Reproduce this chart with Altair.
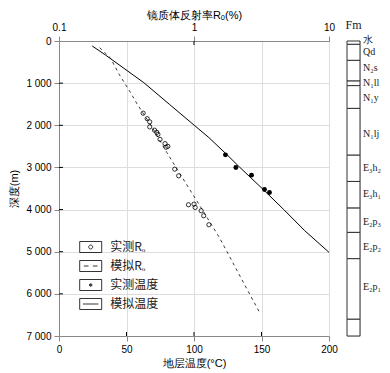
import altair as alt
import pandas as pd

# ---------------- data ----------------
# measured vitrinite reflectance Ro (%) vs depth (m)
ro_meas_depth = [1713, 1843, 1919, 2038, 2116, 2168, 2216, 2334, 2434, 2500, 2520,
                 3041, 3199, 3870, 3886, 3950, 4028, 4147, 4360]
ro_meas_val = [0.42, 0.45, 0.47, 0.47, 0.51, 0.53, 0.54, 0.56, 0.61, 0.64, 0.62,
               0.72, 0.77, 1.00, 0.91, 1.02, 1.13, 1.18, 1.29]

# modelled Ro
ro_model_depth = [160, 400, 800, 1200, 1500, 2000, 2650, 3500, 4000, 4676, 5600, 6476]
ro_model_val = [0.20, 0.24, 0.28, 0.335, 0.38, 0.48, 0.63, 0.92, 1.15, 1.55, 2.21, 3.10]

# measured temperature (°C)
t_meas_depth = [2701, 3002, 3183, 3523, 3594]
t_meas_val = [123.3, 131.0, 142.6, 152.2, 155.9]

# modelled temperature
t_model_depth = [118, 332, 988, 1500, 2000, 2291, 2700, 3000, 3500, 4000, 4500, 5015]
t_model_val = [24.6, 34.4, 62.8, 81.7, 100.2, 111.0, 124.5, 134.0, 150.5, 166.5, 182.0, 200.0]

# stratigraphic column
fm_bounds = [0, 80, 460, 950, 1060, 1600, 2710, 3333, 3965, 4542, 5166, 6603, 7000]
fm_names = ["水", "Qd", "N₂s", "N₁ll", "N₁y", "N₁lj", "E₃h₂", "E₃h₁", "E₂p₃", "E₂p₂", "E₂p₁", ""]
fm_label_depth = [-20, 250, 632, 1003, 1343, 2211, 3002, 3633, 4305, 4897, 5845, 6800]

legend_names = ["实测Rₒ", "模拟Rₒ", "实测温度", "模拟温度"]

temp_ticks = [0, 50, 100, 150, 200]
depth_ticks = [0, 1000, 2000, 3000, 4000, 5000, 6000, 7000]
ro_ticks = [0.1, 1, 10]
temp_inner_ticks = [50, 100, 150]
depth_inner_ticks = [1000, 2000, 3000, 4000, 5000, 6000]
ro_inner_ticks = [1]

# ---------------- tables ----------------
ro_meas = pd.DataFrame({"depth": ro_meas_depth, "ro": ro_meas_val})
ro_model = pd.DataFrame({"depth": ro_model_depth, "ro": ro_model_val})
t_meas = pd.DataFrame({"depth": t_meas_depth, "t": t_meas_val})
t_model = pd.DataFrame({"depth": t_model_depth, "t": t_model_val})
fm_df = pd.DataFrame({"top": fm_bounds[:-1], "bottom": fm_bounds[1:],
                      "name": fm_names, "ly": fm_label_depth})
leg_df = pd.DataFrame({"series": legend_names})

W, H = 270, 295
SERIF = "Liberation Serif"
CJK = "Noto Sans CJK SC"
INK = "#1a1a1a"

y_scale = alt.Scale(domain=[0, 7000], reverse=True, nice=False)
y_axis = alt.Axis(values=depth_ticks, title="深度(m)",
                  labelExpr="replace(format(datum.value, ','), ',', ' ')",
                  labelPadding=3, titlePadding=6, labelFlush=False, labelOverlap=False,
                  titleFontWeight="normal")
t_scale = alt.Scale(domain=[0, 200], nice=False)
t_axis = alt.Axis(values=temp_ticks, title="地层温度(°C)", orient="bottom",
                  labelPadding=3, titlePadding=3, labelFlush=False, labelOverlap=False,
                  titleFontWeight="normal")
ro_scale = alt.Scale(type="log", domain=[0.1, 10], nice=False)
ro_axis = alt.Axis(values=ro_ticks, title="镜质体反射率Rₒ(%)", orient="top", format="~g",
                   labelPadding=4, titlePadding=2, labelFlush=False, labelOverlap=False,
                   titleFontWeight="normal")


def Y(field):
    return alt.Y(field, scale=y_scale, axis=y_axis)


# temperature layers (bottom axis)
t_line = alt.Chart(t_model).mark_line(color="black", strokeWidth=1).encode(
    x=alt.X("t:Q", scale=t_scale, axis=t_axis), y=Y("depth:Q"), order="depth:Q")
t_pts = alt.Chart(t_meas).mark_circle(size=24, color="black", opacity=1).encode(
    x=alt.X("t:Q", scale=t_scale, axis=t_axis), y=Y("depth:Q"))
t_ticks = alt.Chart(pd.DataFrame({"t": temp_inner_ticks})).mark_rule(
    color="black", strokeWidth=1).encode(
    x=alt.X("t:Q", scale=t_scale, axis=t_axis), y=alt.value(H), y2=alt.value(H - 4))
d_ticks = alt.Chart(pd.DataFrame({"depth": depth_inner_ticks})).mark_rule(
    color="black", strokeWidth=1).encode(
    y=Y("depth:Q"), x=alt.value(0), x2=alt.value(4))
temp_layer = alt.layer(t_line, t_pts, t_ticks, d_ticks)

# Ro layers (top log axis)
ro_line = alt.Chart(ro_model).mark_line(color="#222", strokeWidth=0.9,
                                        strokeDash=[3, 3.5]).encode(
    x=alt.X("ro:Q", scale=ro_scale, axis=ro_axis), y=Y("depth:Q"), order="depth:Q")
ro_pts = alt.Chart(ro_meas).mark_point(shape="circle", filled=False, size=18,
                                       color="black", strokeWidth=0.8, opacity=1).encode(
    x=alt.X("ro:Q", scale=ro_scale, axis=ro_axis), y=Y("depth:Q"))
ro_tk = alt.Chart(pd.DataFrame({"ro": ro_inner_ticks})).mark_rule(
    color="black", strokeWidth=1).encode(
    x=alt.X("ro:Q", scale=ro_scale, axis=ro_axis), y=alt.value(0), y2=alt.value(4))
ro_layer = alt.layer(ro_line, ro_pts, ro_tk)

# legend built from an empty layer with boxed custom symbols
box = "M-1,-0.5H1V0.5H-1Z"
sym_open = box + "M-0.18,0A0.18,0.18 0 1,0 0.18,0A0.18,0.18 0 1,0 -0.18,0"
sym_dash = box + "M-0.62,0H-0.2M0.2,0H0.62"
sym_dot = (box + "M-0.12,0A0.12,0.12 0 1,0 0.12,0A0.12,0.12 0 1,0 -0.12,0"
           "M-0.05,0A0.05,0.05 0 1,0 0.05,0A0.05,0.05 0 1,0 -0.05,0")
sym_line = box + "M-0.7,0H0.7"
leg_layer = alt.Chart(leg_df).transform_filter("false").mark_point().encode(
    shape=alt.Shape("series:N",
                    scale=alt.Scale(domain=legend_names,
                                    range=[sym_open, sym_dash, sym_dot, sym_line]),
                    legend=alt.Legend(orient="none", legendX=20.2, legendY=194.5,
                                      title=None, symbolSize=484,
                                      symbolStrokeColor="black", symbolStrokeWidth=0.8,
                                      symbolFillColor="transparent", symbolOpacity=1,
                                      labelFont=CJK, labelFontSize=12, labelColor=INK,
                                      labelOffset=8, rowPadding=0, padding=0)))

main = alt.layer(temp_layer, ro_layer, leg_layer).resolve_scale(
    x="independent").properties(width=W, height=H)

# stratigraphic column
col_y = alt.Scale(domain=[0, 7000], reverse=True, nice=False)
col_rect = alt.Chart(fm_df).mark_rect(fill="white", stroke="#333", strokeWidth=1).encode(
    y=alt.Y("top:Q", scale=col_y, axis=None), y2="bottom:Q",
    x=alt.value(0), x2=alt.value(13))
col_text = alt.Chart(fm_df).mark_text(
    align="left", baseline="middle", font=SERIF, fontSize=10, color=INK).encode(
    y=alt.Y("ly:Q", scale=col_y, axis=None), x=alt.value(16), text="name:N")
column = alt.layer(col_rect, col_text).properties(
    width=13, height=H,
    title=alt.TitleParams("Fm", font=SERIF, fontSize=12, fontWeight="normal",
                          offset=3, anchor="middle", color=INK))

chart = alt.hconcat(main, column, spacing=6).properties(padding=0).configure_view(
    stroke="black", strokeWidth=1).configure_axis(
    labelFont=SERIF, labelFontSize=12, labelColor=INK,
    titleFont=CJK, titleFontSize=12, titleFontWeight="normal", titleColor=INK,
    ticks=False, tickSize=0, domain=False, grid=False).configure(background="white")

chart.save("out.html", embed_options={"renderer": "svg", "actions": False})
